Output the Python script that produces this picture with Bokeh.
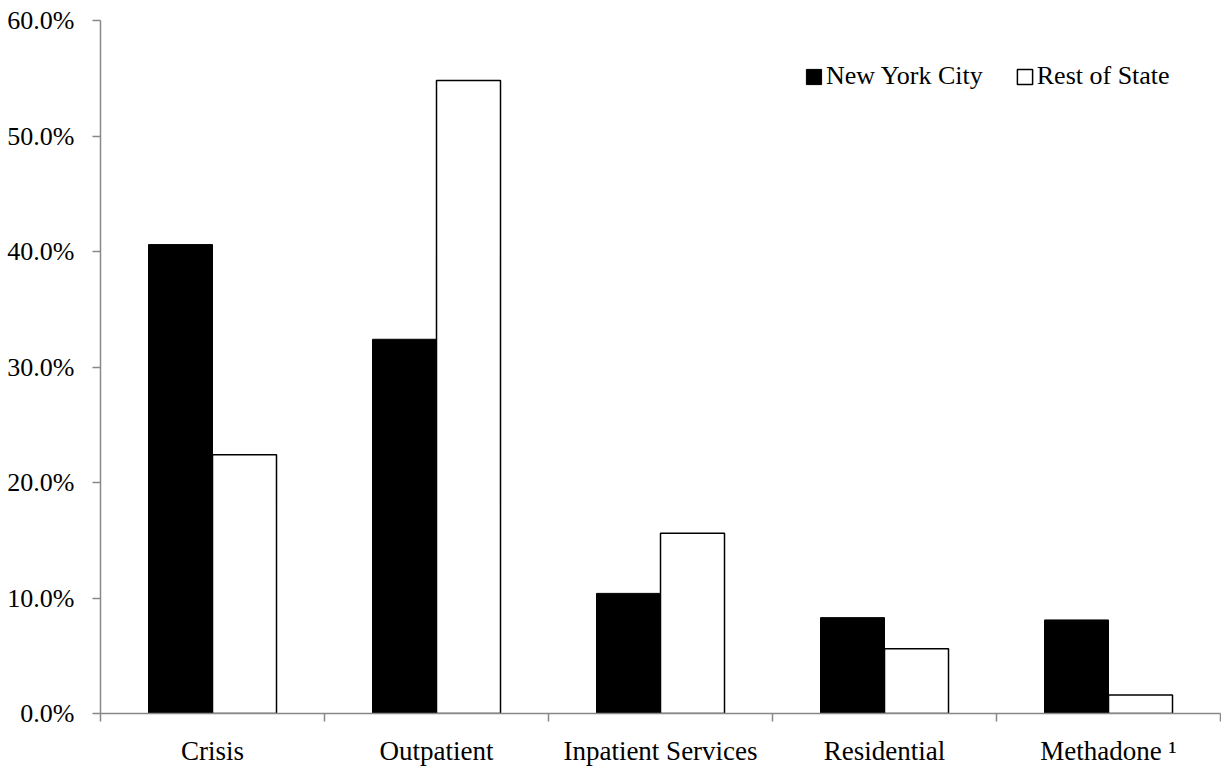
from bokeh.plotting import figure
from bokeh.models import (ColumnDataSource, Range1d, FixedTicker, PrintfTickFormatter,
                          Legend, LegendItem)
from bokeh.embed import file_html
from bokeh.resources import INLINE

categories = ["Crisis", "Outpatient", "Inpatient Services", "Residential", "Methadone \u00b9"]
nyc = [40.6, 32.4, 10.4, 8.3, 8.1]
rest_of_state = [22.4, 54.8, 15.6, 5.6, 1.6]
y_ticks = [0, 10, 20, 30, 40, 50, 60]

FONT = "Liberation Serif"
AXIS_GRAY = "#888888"
bar_w = 64 / 224

idx = list(range(len(categories)))
src = ColumnDataSource(dict(
    x_nyc=[i + 0.5 - bar_w / 2 for i in idx],
    x_ros=[i + 0.5 + bar_w / 2 for i in idx],
    nyc=nyc,
    ros=rest_of_state,
))

p = figure(width=1221, height=768, output_backend="svg", toolbar_location=None,
           x_range=Range1d(0, len(categories)), y_range=Range1d(0, 60),
           min_border_left=100, min_border_right=1, min_border_top=20, min_border_bottom=53)
p.outline_line_color = None
p.xgrid.grid_line_color = None
p.ygrid.grid_line_color = None
p.background_fill_color = "white"
p.border_fill_color = "white"

r_nyc = p.vbar(x="x_nyc", top="nyc", width=bar_w, bottom=0, source=src,
               fill_color="black", line_color="black", line_width=1)
r_ros = p.vbar(x="x_ros", top="ros", width=bar_w, bottom=0, source=src,
               fill_color="white", line_color="black", line_width=1.5)

# x axis
xa = p.xaxis[0]
xa.ticker = FixedTicker(ticks=[i + 0.5 for i in idx], minor_ticks=list(range(len(categories) + 1)))
xa.major_label_overrides = {i + 0.5: c for i, c in zip(idx, categories)}
xa.major_tick_line_color = None
xa.major_tick_out = 0
xa.major_tick_in = 0
xa.minor_tick_line_color = AXIS_GRAY
xa.minor_tick_out = 8
xa.minor_tick_in = 0
xa.minor_tick_line_width = 1.5
xa.axis_line_color = AXIS_GRAY
xa.axis_line_width = 1.5
xa.major_label_text_font = FONT
xa.major_label_text_font_size = "27px"
xa.major_label_text_color = "black"
xa.major_label_standoff = 14

# y axis
ya = p.yaxis[0]
ya.ticker = FixedTicker(ticks=y_ticks)
ya.formatter = PrintfTickFormatter(format="%.1f%%")
ya.major_tick_line_color = AXIS_GRAY
ya.major_tick_line_width = 1.5
ya.major_tick_out = 8
ya.major_tick_in = 0
ya.minor_tick_line_color = None
ya.axis_line_color = AXIS_GRAY
ya.axis_line_width = 1.5
ya.major_label_text_font = FONT
ya.major_label_text_font_size = "26px"
ya.major_label_text_color = "black"
ya.major_label_standoff = 18

legend = Legend(items=[LegendItem(label="New York City", renderers=[r_nyc]),
                       LegendItem(label="Rest of State", renderers=[r_ros])],
                orientation="horizontal", location=(704, 622),
                glyph_width=19, glyph_height=19, label_standoff=3, spacing=32,
                padding=0, margin=0, border_line_color=None, background_fill_alpha=0,
                label_text_font=FONT, label_text_font_size="26px", label_text_color="black")
p.add_layout(legend)

open("out.html", "w").write(file_html(p, INLINE))
